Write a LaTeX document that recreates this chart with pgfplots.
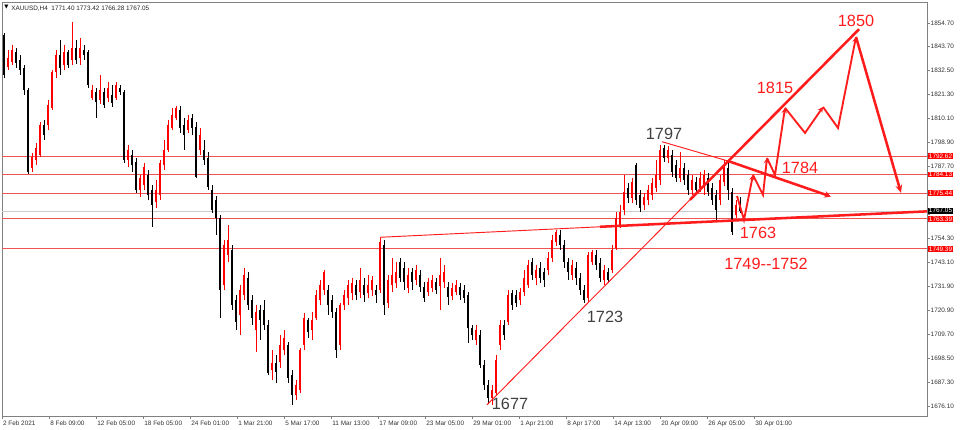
\documentclass[border=0pt]{standalone}
\usepackage{pgfplots}
\pgfplotsset{compat=1.18}
\usepackage{pgfplotstable}
\usepackage{fontspec}
\setmainfont{Liberation Sans}
\newfontfamily\dejavu{DejaVu Sans}
\usetikzlibrary{arrows.meta}

\definecolor{upred}{RGB}{255,0,0}
\definecolor{lvlred}{RGB}{240,85,85}
\definecolor{annred}{RGB}{255,28,28}
\definecolor{txtgray}{RGB}{64,64,64}
\definecolor{framegray}{RGB}{128,128,128}
\newcommand{\tk}{\fontsize{4.8}{5.5}\selectfont}
\newcommand{\ann}{\fontsize{12.2}{13}\selectfont}

% candles: x (pixel column), low, high, body low, body high
\pgfplotstableread{
x l h bl bh
8 1832.9 1842.2 1834.3 1838.5
12 1835.2 1844.6 1836.6 1842.2
32 1785.3 1794.2 1787.2 1792.3
36 1788.6 1798.8 1790.9 1796.5
40 1792.3 1808.6 1793.2 1807.2
48 1804.9 1818.9 1807.2 1816.6
52 1814.2 1832.9 1815.2 1832.0
56 1829.2 1842.2 1832.0 1839.9
64 1832.9 1844.6 1835.2 1841.3
72 1835.2 1855.3 1837.6 1843.2
80 1835.2 1847.8 1838.5 1843.2
92 1818.9 1825.9 1819.8 1823.6
100 1817.0 1830.6 1818.9 1823.6
108 1818.0 1827.3 1819.8 1824.5
116 1818.9 1827.3 1819.8 1825.9
128 1787.6 1797.9 1790.9 1795.6
140 1773.6 1783.9 1776.9 1782.5
144 1776.9 1789.5 1779.2 1787.6
156 1768.5 1781.6 1771.3 1776.9
160 1772.2 1790.9 1774.6 1789.5
164 1786.2 1800.2 1788.6 1795.6
168 1794.6 1809.6 1795.6 1807.2
172 1804.9 1815.2 1805.8 1811.9
176 1809.6 1816.1 1810.5 1815.2
188 1803.5 1811.9 1804.9 1809.6
200 1793.2 1805.8 1795.6 1802.6
224 1730.2 1753.6 1732.6 1751.2
228 1743.3 1760.6 1746.6 1753.6
240 1709.2 1732.6 1718.6 1730.2
244 1725.6 1740.5 1727.9 1737.2
256 1701.3 1723.2 1711.6 1720.0
272 1688.2 1702.2 1692.9 1696.2
280 1693.8 1709.2 1696.6 1704.6
284 1699.9 1711.6 1702.2 1707.8
296 1678.9 1688.2 1681.2 1685.9
300 1682.2 1703.2 1683.6 1702.2
304 1702.2 1719.5 1704.6 1717.2
312 1706.9 1720.0 1711.6 1716.2
316 1716.2 1730.2 1717.2 1727.9
320 1723.2 1734.9 1725.6 1732.6
324 1727.9 1739.6 1730.2 1738.6
340 1702.2 1724.2 1704.6 1723.2
344 1720.9 1730.2 1723.2 1727.9
348 1723.2 1734.9 1726.5 1732.6
352 1725.6 1735.8 1728.8 1733.5
360 1726.5 1740.5 1729.3 1734.9
368 1726.5 1737.2 1728.8 1732.6
372 1727.4 1736.8 1730.2 1734.9
380 1728.8 1755.0 1730.2 1752.6
388 1721.8 1737.2 1724.2 1734.9
392 1729.3 1745.2 1732.6 1737.2
396 1731.2 1743.3 1733.5 1738.6
408 1728.8 1740.5 1731.2 1737.2
416 1732.6 1741.9 1734.9 1739.6
428 1727.4 1735.8 1729.3 1734.0
432 1729.3 1737.2 1731.2 1734.9
440 1720.9 1745.2 1732.1 1737.2
444 1731.2 1741.9 1734.0 1738.6
452 1725.6 1733.5 1727.4 1731.2
456 1727.9 1734.9 1729.3 1732.6
476 1704.6 1713.9 1706.9 1711.6
492 1676.6 1685.9 1679.8 1683.6
496 1680.8 1699.9 1682.2 1697.6
500 1702.2 1716.2 1704.6 1713.9
508 1713.9 1730.2 1715.3 1727.9
520 1723.2 1731.2 1725.6 1729.3
524 1727.4 1739.6 1729.3 1735.8
528 1731.2 1744.2 1732.6 1741.9
536 1732.6 1741.9 1735.8 1739.6
548 1737.2 1748.0 1739.6 1745.2
552 1743.3 1755.9 1745.2 1753.6
556 1750.8 1758.2 1752.6 1757.3
572 1734.9 1744.2 1737.2 1741.9
588 1724.6 1748.0 1726.5 1746.6
592 1741.9 1748.9 1743.3 1748.0
604 1732.6 1741.9 1734.9 1739.6
612 1738.2 1751.2 1739.6 1748.9
616 1748.9 1766.6 1749.8 1763.8
620 1759.2 1769.9 1760.6 1766.6
624 1765.2 1783.9 1767.6 1776.0
632 1770.8 1782.5 1773.2 1780.6
644 1767.6 1775.5 1769.9 1773.6
648 1769.9 1779.2 1772.2 1776.9
652 1772.2 1782.5 1774.6 1780.2
656 1776.0 1790.9 1777.8 1783.9
660 1779.2 1797.9 1781.6 1795.6
668 1789.5 1797.4 1791.8 1795.6
680 1780.6 1794.6 1782.5 1787.2
692 1774.6 1783.9 1776.9 1781.6
700 1776.0 1785.3 1777.8 1782.5
704 1774.6 1786.2 1779.2 1783.9
720 1769.9 1783.9 1772.2 1781.6
724 1778.8 1790.9 1780.6 1788.6
736 1763.8 1772.2 1765.2 1769.9
}\upT

\pgfplotstableread{
x l h bl bh
4 1829.2 1850.2 1830.6 1849.2
16 1833.8 1843.2 1836.2 1841.3
20 1830.6 1839.9 1832.9 1837.6
24 1821.2 1835.2 1823.6 1833.8
28 1784.4 1824.5 1785.3 1823.6
44 1800.2 1809.6 1802.6 1807.2
60 1830.6 1846.9 1833.8 1839.9
68 1833.8 1842.2 1835.2 1841.3
76 1835.7 1846.9 1837.6 1843.2
84 1837.6 1844.6 1839.9 1842.2
88 1824.5 1842.2 1825.9 1841.3
96 1810.5 1824.5 1818.0 1822.6
104 1815.2 1824.5 1816.6 1822.6
112 1815.6 1825.9 1817.5 1821.2
120 1821.2 1825.9 1822.6 1824.5
124 1789.5 1823.6 1790.9 1822.6
132 1785.3 1795.6 1788.6 1793.2
136 1775.5 1791.8 1776.9 1790.0
148 1772.2 1786.2 1774.6 1783.9
152 1759.6 1779.2 1769.9 1776.9
180 1803.5 1816.1 1805.8 1814.2
184 1795.6 1810.5 1802.6 1807.2
192 1802.6 1812.4 1805.8 1810.5
196 1782.5 1808.6 1783.0 1806.3
204 1788.6 1800.2 1790.9 1795.6
208 1776.9 1794.6 1778.3 1791.8
212 1766.2 1779.2 1767.6 1776.9
216 1755.9 1774.1 1763.8 1772.2
220 1717.2 1765.2 1730.2 1763.8
232 1720.9 1751.2 1723.2 1748.9
236 1711.6 1727.9 1715.3 1725.6
248 1720.9 1738.6 1723.2 1735.8
252 1713.9 1727.9 1717.2 1725.6
260 1706.9 1723.2 1716.2 1720.9
264 1711.6 1725.6 1713.9 1720.9
268 1690.6 1716.2 1691.5 1713.9
276 1686.8 1699.9 1692.0 1696.2
288 1686.8 1706.0 1689.2 1704.6
292 1676.6 1692.9 1681.2 1690.6
308 1707.8 1717.2 1710.6 1716.2
328 1718.6 1732.6 1723.2 1730.2
332 1717.2 1727.9 1720.0 1725.6
336 1698.5 1721.8 1702.2 1720.0
356 1725.6 1734.9 1727.9 1732.6
364 1724.6 1735.8 1727.9 1732.6
376 1724.2 1732.6 1727.9 1730.2
384 1718.6 1753.6 1723.2 1751.2
400 1734.0 1745.2 1735.8 1743.3
404 1730.2 1743.3 1734.0 1740.5
412 1730.2 1740.5 1734.0 1738.6
420 1729.3 1739.6 1731.6 1737.2
424 1724.6 1734.0 1726.5 1731.6
436 1728.4 1735.8 1730.2 1734.0
448 1723.2 1734.0 1727.0 1731.6
460 1725.6 1733.5 1727.9 1731.6
464 1724.2 1732.6 1726.5 1730.2
468 1705.5 1729.3 1712.5 1727.9
472 1706.9 1713.9 1709.2 1712.5
480 1693.8 1711.6 1695.2 1709.2
484 1683.6 1697.6 1685.9 1695.2
488 1677.5 1688.2 1679.8 1685.9
504 1706.9 1716.2 1709.2 1713.9
512 1720.9 1730.2 1723.2 1728.8
516 1722.3 1730.2 1724.2 1727.9
532 1734.9 1745.2 1737.2 1743.3
540 1733.5 1743.3 1735.8 1740.5
544 1731.6 1740.5 1734.9 1738.6
560 1748.9 1758.2 1751.2 1755.9
564 1740.5 1753.6 1743.3 1751.2
568 1734.9 1745.2 1738.6 1743.3
576 1732.6 1743.3 1735.8 1740.5
580 1727.9 1738.2 1730.2 1735.8
584 1724.2 1732.6 1725.6 1730.2
596 1739.6 1748.9 1741.9 1746.6
600 1734.0 1745.2 1735.8 1742.8
608 1733.5 1740.5 1734.9 1738.6
628 1770.8 1780.2 1773.2 1777.8
636 1769.9 1789.5 1772.2 1788.6
640 1766.6 1776.9 1768.5 1774.6
664 1790.0 1797.9 1791.8 1796.5
672 1783.0 1795.6 1785.3 1793.2
676 1780.6 1790.9 1782.5 1788.6
684 1779.2 1789.5 1781.6 1787.2
688 1774.6 1786.2 1776.9 1783.9
696 1774.6 1783.0 1776.9 1780.6
708 1774.1 1784.8 1776.0 1782.5
712 1769.9 1780.2 1772.2 1777.8
716 1762.9 1776.9 1767.6 1774.6
728 1772.2 1790.0 1776.9 1787.2
732 1755.9 1777.8 1757.3 1776.0
740 1766.28 1773.42 1767.05 1771.40
}\dnT

\pgfplotsset{
  candle/.style 2 args={draw=none, mark=none, forget plot,
    error bars/.cd, y dir=plus, y explicit, error mark=none,
    error bar style={draw=#1, line width=#2}},
}

\begin{document}
\begin{tikzpicture}
\begin{axis}[
  at={(0,0)}, anchor=south west,
  width=693.75pt, height=310.5pt, scale only axis,
  xmin=2, xmax=927, ymin=1671.4, ymax=1864.6,
  clip=false,
  axis line style={framegray, line width=0.7pt},
  tick align=outside, major tick length=2.2pt,
  tick style={framegray, line width=0.5pt},
  xtick pos=bottom, ytick pos=right, yticklabel pos=right,
  xtick={2,49.3,96.3,143.3,190.3,237.3,284.3,331.3,378.3,425.3,472.3,519.3,566.3,613.3,660.3,707.3,754.3},
  xticklabels={2 Feb 2021, 8 Feb 09:00, 12 Feb 05:00, 18 Feb 05:00, 24 Feb 01:00, 1 Mar 21:00, 5 Mar 17:00, 11 Mar 13:00, 17 Mar 09:00, 23 Mar 05:00, 29 Mar 01:00, 1 Apr 21:00, 8 Apr 17:00, 14 Apr 13:00, 20 Apr 09:00, 26 Apr 05:00, 30 Apr 01:00},
  ytick={1676.1,1687.3,1698.5,1709.7,1720.9,1731.9,1743.1,1754.3,1765.4,1776.5,1787.7,1798.9,1810.1,1821.3,1832.5,1843.7,1854.7},
  yticklabels={1676.10,1687.30,1698.50,1709.70,1720.90,1731.90,1743.10,1754.30,,,1787.70,1798.90,1810.10,1821.30,1832.50,1843.70,1854.70},
  xticklabel style={font=\tk, text=black!80, anchor=north west, inner sep=0pt, xshift=0.6pt, yshift=-1.4pt},
  yticklabel style={font=\tk, text=black!80, anchor=west, inner sep=0pt, xshift=0.4pt},
]
% level lines
\addplot[lvlred, line width=0.6pt] coordinates {(2,1792.62) (927,1792.62)};
\addplot[lvlred, line width=0.6pt] coordinates {(2,1784.13) (927,1784.13)};
\addplot[lvlred, line width=0.6pt] coordinates {(2,1775.44) (927,1775.44)};
\addplot[black!20, line width=0.6pt] coordinates {(2,1767.05) (927,1767.05)};
\addplot[lvlred, line width=0.6pt] coordinates {(2,1763.39) (927,1763.39)};
\addplot[lvlred, line width=0.6pt] coordinates {(2,1749.39) (927,1749.39)};

% candles: wicks then bodies
\addplot[candle={upred}{0.75pt}] table[x=x, y=l, y error expr=\thisrow{h}-\thisrow{l}] {\upT};
\addplot[candle={upred}{2.2pt}] table[x=x, y=bl, y error expr=\thisrow{bh}-\thisrow{bl}] {\upT};
\addplot[candle={black}{0.75pt}] table[x=x, y=l, y error expr=\thisrow{h}-\thisrow{l}] {\dnT};
\addplot[candle={black}{2.2pt}] table[x=x, y=bl, y error expr=\thisrow{bh}-\thisrow{bl}] {\dnT};

% trend lines
\draw[annred, line width=0.7pt] (380,1754.8) -- (600,1759.7);
\draw[annred, line width=1.9pt] (600,1759.7) -- (927,1766.9);
\draw[annred, line width=0.7pt] (487,1676.6) -- (690,1772.3);
\draw[annred, line width=1.9pt] (690,1772.3) -- (859,1851.9);
\draw[annred, line width=0.7pt] (662,1799.4) -- (728,1790.4);
\draw[annred, line width=1.9pt, -{Stealth[length=5pt,width=5pt]}] (728,1790.4) -- (831,1773.8);

% projected path
\begin{scope}[annred, line width=1.4pt, arr/.style={-{Stealth[length=4pt,width=4pt]}}]
\draw[arr] (737,1774.1) -- (744,1762.9) -- (753,1783.9);
\draw[arr] (753,1783.9) -- (763,1774.6) -- (767,1791.8);
\draw[arr] (767,1791.8) -- (775,1783.9) -- (785,1815.2);
\draw[arr] (785,1815.2) -- (805,1803.5) -- (823,1815.6);
\draw[arr] (823,1815.6) -- (838,1805.8) -- (856,1848.3);
\draw[line width=1.9pt, -{Stealth[length=6pt,width=5pt]}] (856,1848.3) -- (901,1775.5);
\end{scope}

% annotations
\node[font=\ann, text=annred, inner sep=0pt] at (856,1855.8) {1850};
\node[font=\ann, text=annred, inner sep=0pt] at (775,1824.7) {1815};
\node[font=\ann, text=txtgray, inner sep=0pt] at (664,1803.0) {1797};
\node[font=\ann, text=annred, inner sep=0pt] at (800,1787.0) {1784};
\node[font=\ann, text=annred, inner sep=0pt] at (758,1756.8) {1763};
\node[font=\ann, text=annred, inner sep=0pt] at (766,1742.4) {1749{-}{-}1752};
\node[font=\ann, text=txtgray, inner sep=0pt] at (605,1717.8) {1723};
\node[font=\ann, text=txtgray, inner sep=0pt] at (510,1677.2) {1677};

% price boxes on the right scale
\node[font=\tk, fill=upred, text=white, inner sep=0.5pt, anchor=west] at (928,1792.62) {1792.62};
\node[font=\tk, fill=upred, text=white, inner sep=0.5pt, anchor=west] at (928,1784.13) {1784.13};
\node[font=\tk, fill=upred, text=white, inner sep=0.5pt, anchor=west] at (928,1775.44) {1775.44};
\node[font=\tk, fill=upred, text=white, inner sep=0.5pt, anchor=west] at (928,1763.2) {1763.39};
\node[font=\tk, fill=black, text=white, inner sep=0.5pt, anchor=west] at (928,1767.25) {1767.05};
\node[font=\tk, fill=upred, text=white, inner sep=0.5pt, anchor=west] at (928,1749.39) {1749.39};

% header
\node[font={\dejavu\fontsize{4}{4}\selectfont}, text=black, inner sep=0pt] at (6.5,1862.3) {▼};
\node[font=\tk, text=black!85, anchor=west, inner sep=0pt] at (11,1861.6) {XAUUSD,H4\ \ 1771.40 1773.42 1766.28 1767.05};
\end{axis}
\pgfresetboundingbox
\path[use as bounding box] (-1.5pt,-9.75pt) rectangle (718.5pt,312pt);
\end{tikzpicture}
\end{document}
